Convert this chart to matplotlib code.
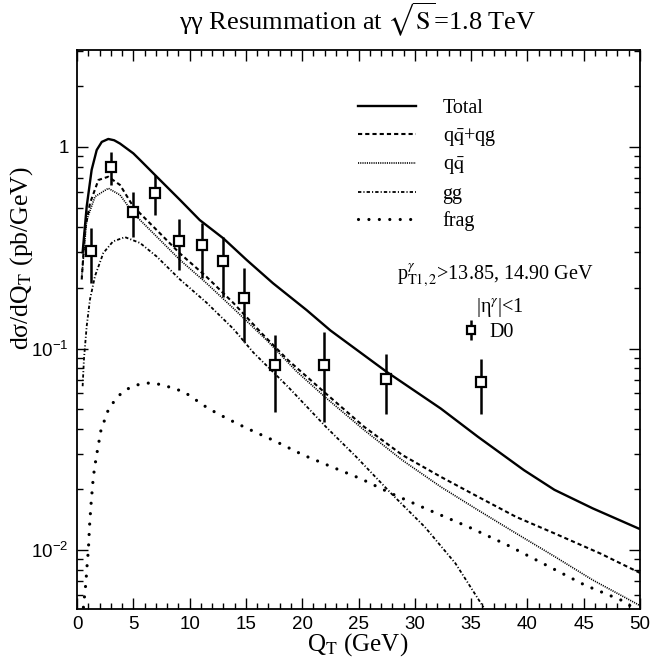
import numpy as np
import matplotlib
matplotlib.use('Agg')
import matplotlib.pyplot as plt
from matplotlib.ticker import MultipleLocator, LogLocator, FixedLocator, FixedFormatter, NullFormatter

plt.rcParams['font.family'] = ['Liberation Serif', 'DejaVu Serif']
plt.rcParams['mathtext.fontset'] = 'stix'
plt.rcParams['lines.scale_dashes'] = False

# Total resummed curve
qt_total = [0.5, 0.86, 1.3, 1.75, 2.2, 2.78, 3.3, 3.82, 5.0, 5.6, 6.93, 9.15, 10.9,
            13.0, 15.07, 17.4, 20.4, 22.5, 27.5, 32.3, 35.6, 39.7, 42.4, 45.8, 50.0]
total = [0.30, 0.506, 0.77, 0.966, 1.06, 1.096, 1.08, 1.04, 0.93, 0.862, 0.726, 0.546, 0.434,
         0.352, 0.275, 0.211, 0.155, 0.123, 0.0766, 0.0504, 0.0365, 0.0249, 0.0199, 0.0161, 0.0127]

# qqbar + qg
qt_qqbar_qg = [0.42, 0.71, 1.15, 1.9, 2.78, 3.82, 5.0, 7.08, 9.15, 11.5, 13.9, 16.4, 18.75,
               22.1, 25.5, 28.9, 32.3, 35.6, 39.0, 42.4, 46.5, 50.0]
qqbar_qg = [0.22, 0.387, 0.525, 0.686, 0.712, 0.648, 0.506, 0.387, 0.296, 0.227, 0.168, 0.119, 0.0875,
            0.0598, 0.0409, 0.0296, 0.0231, 0.0184, 0.0146, 0.0121, 0.0096, 0.0077]

# qqbar only
qt_qqbar = [0.42, 0.86, 1.6, 2.78, 3.82, 5.0, 7.08, 9.15, 11.5, 13.9, 16.85, 19.5, 22.1,
            25.5, 28.9, 32.3, 35.6, 39.0, 42.4, 45.8, 50.0]
qqbar = [0.227, 0.434, 0.567, 0.624, 0.578, 0.469, 0.359, 0.275, 0.211, 0.158, 0.110, 0.077, 0.057,
         0.0394, 0.0279, 0.0206, 0.0158, 0.0121, 0.0093, 0.0071, 0.0053]

# gg
qt_gg = [0.5, 0.62, 0.86, 1.15, 1.6, 2.34, 3.2, 4.26, 5.6, 7.08, 9.15, 11.5, 13.9, 15.65,
         18.75, 22.1, 24.8, 27.9, 30.9, 33.6, 36.1]
gg = [0.065, 0.089, 0.129, 0.175, 0.229, 0.298, 0.34, 0.357, 0.334, 0.286, 0.22, 0.169, 0.125, 0.0957,
      0.0645, 0.0409, 0.029, 0.0191, 0.0130, 0.0086, 0.0052]

# fragmentation
qt_frag = [0.57, 0.68, 0.78, 0.91, 1.01, 1.11, 1.25, 1.45, 1.69, 2.13, 2.8, 3.38, 4.05, 4.83,
           5.74, 6.59, 7.6, 9.5, 11.66, 13.3, 15.0, 17.6, 20.1, 22.6, 25.2, 27.9, 31.25, 34.8,
           38.2, 41.7, 45.1, 48.3, 49.6]
frag = [0.0052, 0.006, 0.0068, 0.0086, 0.010, 0.0131, 0.017, 0.0231, 0.0285, 0.0394, 0.050, 0.0555,
        0.061, 0.0645, 0.067, 0.0675, 0.066, 0.061, 0.0504, 0.045, 0.0404, 0.0347, 0.0296, 0.0259,
        0.0226, 0.0191, 0.0158, 0.0130, 0.0106, 0.0084, 0.0067, 0.00565, 0.0051]

# D0 data
d0_qt = [1.2, 3.0, 5.0, 6.9, 9.1, 11.1, 13.0, 14.8, 17.6, 21.9, 27.4, 35.9]
d0_val = [0.306, 0.793, 0.477, 0.593, 0.342, 0.325, 0.271, 0.179, 0.0827, 0.0827, 0.0706, 0.0685]
d0_lo = [0.211, 0.648, 0.356, 0.460, 0.245, 0.223, 0.181, 0.108, 0.0485, 0.0433, 0.0472, 0.0472]
d0_hi = [0.395, 0.941, 0.600, 0.726, 0.438, 0.421, 0.356, 0.252, 0.117, 0.121, 0.0940, 0.0892]

y_major_ticks = [0.01, 0.1, 1.0]
y_tick_labels = [r'$\mathregular{10^{-2}}$', r'$\mathregular{10^{-1}}$', '1']

fig = plt.figure(figsize=(6.52, 6.61), dpi=100)
ax = fig.add_axes([0.1181, 0.0787, 0.8635, 0.8457])

l_tot, = ax.plot(qt_total, total, color='black', lw=1.7, label='Total')
l_qg, = ax.plot(qt_qqbar_qg, qqbar_qg, color='black', lw=1.5, dashes=(3.0, 2.2),
                label=r'q$\bar{\mathrm{q}}$+qg')
l_qq, = ax.plot(qt_qqbar, qqbar, color='black', lw=1.2, dashes=(0.8, 0.8),
                label=r'q$\bar{\mathrm{q}}$')
l_gg, = ax.plot(qt_gg, gg, color='black', lw=1.3, dashes=(2.4, 1.5, 0.8, 1.5), label='gg')
l_fr, = ax.plot(qt_frag, frag, color='black', lw=2.3, dashes=(0.01, 7.5),
                dash_capstyle='round', label='frag')

d0_val_a = np.array(d0_val)
yerr = [d0_val_a - np.array(d0_lo), np.array(d0_hi) - d0_val_a]
eb = ax.errorbar(d0_qt, d0_val, yerr=yerr, fmt='s', ms=7.5, mfc='white', mec='black',
                 mew=1.6, ecolor='black', elinewidth=1.8, capsize=0, zorder=5)

ax.set_xlim(0, 50)
ax.set_yscale('log')
ax.set_ylim(0.0051, 3.03)
ax.xaxis.set_major_locator(MultipleLocator(5))
ax.xaxis.set_minor_locator(MultipleLocator(1))
ax.yaxis.set_major_locator(FixedLocator(y_major_ticks))
ax.yaxis.set_major_formatter(FixedFormatter(y_tick_labels))
ax.yaxis.set_minor_locator(LogLocator(base=10, subs=np.arange(2, 10)))
ax.yaxis.set_minor_formatter(NullFormatter())
ax.tick_params(which='both', direction='in', top=True, right=True, labelsize=13.5, width=1.0)
ax.tick_params(which='major', length=8)
ax.tick_params(which='minor', length=4)
ax.tick_params(axis='x', which='major', pad=5)
ax.tick_params(axis='y', which='major', pad=6)
for lab in ax.get_xticklabels() + ax.get_yticklabels():
    lab.set_fontfamily('Liberation Sans')
for sp in ax.spines.values():
    sp.set_linewidth(1.3)

leg1 = ax.legend(handles=[l_tot, l_qg, l_qq, l_gg, l_fr], loc='upper left',
                 bbox_to_anchor=(0.499, 0.912), frameon=False, fontsize=14.5,
                 handlelength=2.9, handletextpad=1.3, labelspacing=0.38,
                 borderaxespad=0, borderpad=0)
ax.add_artist(leg1)
ax.legend([eb], ['D0'], loc='center left', bbox_to_anchor=(0.686, 0.494), frameon=False,
          fontsize=14.5, handlelength=0.8, handletextpad=0.5, markerscale=0.8,
          borderaxespad=0, borderpad=0)

ax.text(0.742, 0.597, r'p$_{\mathrm{T1,2}}^{\gamma}$>13.85, 14.90 GeV', transform=ax.transAxes,
        ha='center', va='center', fontsize=14.5)
ax.text(0.751, 0.540, r'|η$^{\gamma}$|<1', transform=ax.transAxes,
        ha='center', va='center', fontsize=14.5)

fig.text(358 / 652, 1 - 20 / 661, r'γγ Resummation at $\sqrt{\mathrm{S}}$=1.8 TeV',
         ha='center', va='center', fontsize=19)
fig.text(358 / 652, 1 - 645 / 661, r'Q$_{\mathrm{T}}$ (GeV)', ha='center', va='center', fontsize=18)
fig.text(22 / 652, 1 - 258 / 661, r'dσ/dQ$_{\mathrm{T}}$ (pb/GeV)', ha='center', va='center',
         rotation=90, fontsize=18.5)

fig.savefig('out.png', dpi=100)
